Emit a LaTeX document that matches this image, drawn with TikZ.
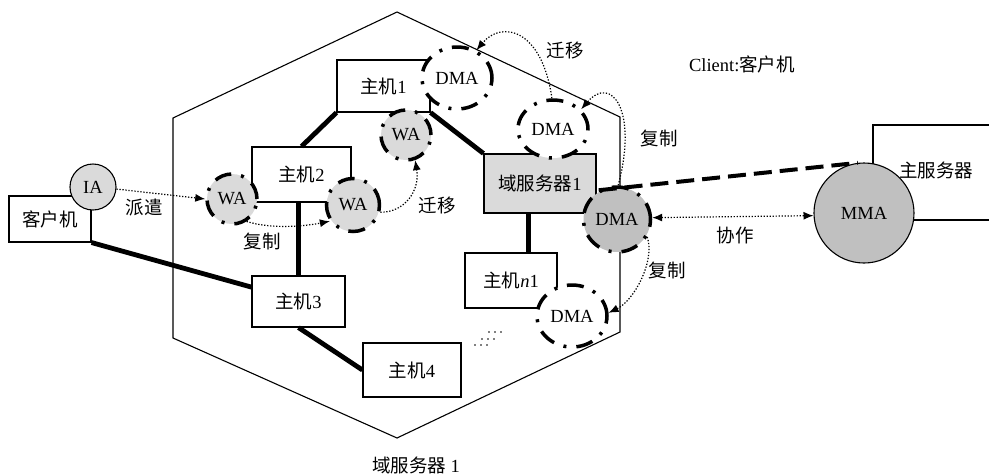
\documentclass[tikz,border=0pt]{standalone}
\usepackage{fontspec}
\setmainfont{Liberation Serif}
\newfontfamily\cjk{Noto Sans CJK SC}
\usetikzlibrary{shapes.geometric,arrows.meta,calc}
\definecolor{lg}{RGB}{218,218,218}
\definecolor{mg}{RGB}{192,192,192}
\tikzset{
  >={Latex[length=10pt,width=8pt]},
  box/.style={draw, line width=1.1pt, inner sep=0pt},
  ddline/.style={draw, line width=3.5pt, dash pattern=on 17pt off 10pt on 3pt off 10pt},
  wagent/.style={circle, ddline, fill=lg, inner sep=0pt},
  dagent/.style={ellipse, ddline, fill=white, inner sep=0pt},
  gagent/.style={ellipse, ddline, fill=mg, inner sep=0pt},
  thickline/.style={line width=4.8pt},
  thickdash/.style={line width=4pt, dash pattern=on 18pt off 8pt},
  dotarrow/.style={line width=1.2pt, dash pattern=on 1.3pt off 1.7pt, ->},
  lbl/.style={inner sep=0pt}
}
\begin{document}
\begin{tikzpicture}[x=1pt,y=-1pt,font=\fontsize{18.5}{20}\selectfont]
\useasboundingbox (0,0) rectangle (989,475);

% hexagon (domain server region)
\draw[line width=1.1pt] (397,12) -- (620,117) -- (620,332) -- (397,438) -- (173,338) -- (173,118) -- cycle;

% boxes
\node[box, minimum width=82pt, minimum height=46pt] (client) at (50,219) {{\cjk 客户机}};
\node[box, minimum width=93pt, minimum height=52pt] (host1) at (383.5,86) {{\cjk 主机}1};
\node[box, minimum width=99pt, minimum height=55pt] (host2) at (301.5,174.5) {{\cjk 主机}2};
\node[box, minimum width=93pt, minimum height=51pt] (host3) at (298.5,301.5) {{\cjk 主机}3};
\node[box, minimum width=98pt, minimum height=54pt] (host4) at (412,370) {{\cjk 主机}4};
\node[box, minimum width=92pt, minimum height=55pt] (hostn1) at (511,280.5) {{\cjk 主机}\textit{n}1};
\node[box, fill=lg, minimum width=112pt, minimum height=59pt] (domain) at (540,183.5) {{\cjk 域服务器}1};
\node[box, minimum width=130pt, minimum height=95pt] (server) at (938,172.5) {};

% thick links
\draw[thickline] (client.south east) -- (host3.163);
\draw[thickline] (host2.south -| host3.north) -- (host3.north);
\draw[thickline] (host2.north) -- (host1.south west);
\draw[thickline] (host1.south east) -- (domain.north west);
\draw[thickline] ($(domain.south west)+(45,0)$) -- ($(hostn1.north west)+(64,0)$);
\draw[thickline] (host3.south) -- (host4.west);

% agents
\node[circle, draw, line width=1.1pt, fill=lg, minimum size=46pt, inner sep=0pt] (ia) at (93,187) {IA};
\node[wagent, minimum size=50pt] (wa1) at (232,199) {WA};
\node[wagent, minimum size=53pt] (wa2) at (353,205) {WA};
\node[wagent, minimum size=50pt] (wa3) at (406,135) {WA};
\node[dagent, minimum width=70pt, minimum height=62pt] (dmatop) at (457,78) {DMA};
\node[dagent, minimum width=70pt, minimum height=58pt] (dmamid) at (553,129) {DMA};
\node[gagent, minimum width=67pt, minimum height=65pt] (gdma) at (617,219.5) {DMA};
\node[dagent, minimum width=70pt, minimum height=62pt] (dmabot) at (572,316) {DMA};
\node[circle, draw, line width=1.1pt, fill=mg, minimum size=100pt, inner sep=0pt] (mma) at (864,213) {MMA};

% dashed link domain DMA -- MMA
\draw[thickdash] (gdma.122) -- (mma.97);

% dotted arrows
\draw[dotarrow] (ia.-5) -- (wa1.west);
\draw[dotarrow] (wa1.-57) .. controls +(25,8) and +(-25,5) .. (wa2.215);
\draw[dotarrow] (wa2.-15) .. controls +(25,0) and +(5,30) .. (wa3.-70);
\draw[dotarrow] (dmamid.92) .. controls +(-10,-70) and +(25,-30) .. (dmatop.55);
\draw[dotarrow] (gdma.88) .. controls +(20,-75) and +(30,-35) .. (dmamid.35);
\draw[dotarrow, <->] (gdma.3) -- (mma.183);
\draw[dotarrow] (gdma.-30) .. controls +(8,25) and +(25,-12) .. (dmabot.5);

% dots
\foreach \px/\py in {489/332,495/332,501/332,482/339,488/339,494/339,475/345,481/345,487/345}
  \fill (\px,\py) circle (0.9pt);

% labels
\node[lbl] (lpq) at (144,208) {{\cjk 派遣}};
\node[lbl] (lfz1) at (262,241) {{\cjk 复制}};
\node[lbl] (lqy1) at (437,206) {{\cjk 迁移}};
\node[lbl] (lqy2) at (565,51) {{\cjk 迁移}};
\node[lbl] (lfz2) at (659,138) {{\cjk 复制}};
\node[lbl] (lxz) at (735,235) {{\cjk 协作}};
\node[lbl] (lfz3) at (667,270) {{\cjk 复制}};
\node[lbl] (lclient) at (742,64) {Client:{\cjk 客户机}};
\node[lbl] (ldomain) at (416,465) {{\cjk 域服务器}~1};
\node[lbl] (lserver) at (936,170) {{\cjk 主服务器}};
\end{tikzpicture}
\end{document}
